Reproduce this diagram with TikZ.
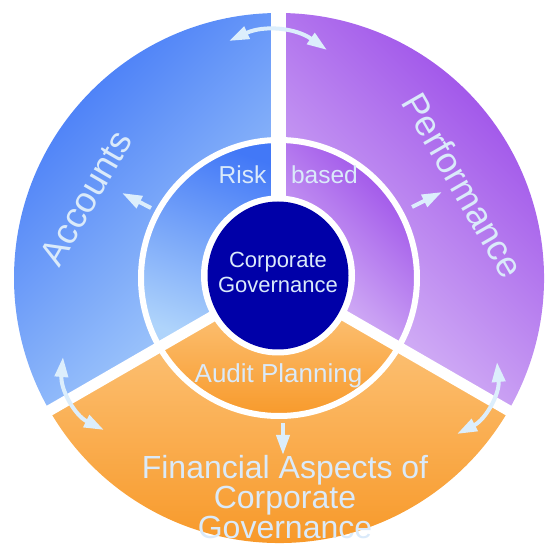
\documentclass[tikz,border=0pt]{standalone}
\usepackage{fontspec}
\setmainfont{Liberation Sans}
\usetikzlibrary{arrows.meta,calc,shapes.geometric}
\definecolor{blueD}{RGB}{66,120,247}
\definecolor{blueL}{RGB}{175,212,251}
\definecolor{purD}{RGB}{150,66,231}
\definecolor{purL}{RGB}{220,194,248}
\definecolor{oraT}{RGB}{253,204,138}
\definecolor{oraB}{RGB}{247,146,28}
\definecolor{navy}{RGB}{0,0,168}
\definecolor{arrc}{RGB}{220,238,252}
\definecolor{txtc}{RGB}{218,234,250}
\tikzset{
  lbl/.style={text=txtc, inner sep=0pt},
  dbl/.style={line width=4pt, draw=arrc, {Triangle[length=20pt,width=13pt]}-{Triangle[length=20pt,width=13pt]}},
  sgl/.style={line width=4pt, draw=arrc, -{Triangle[length=20pt,width=13pt]}},
  gapline/.style={draw=white, line width=11pt},
}
\begin{document}
\begin{tikzpicture}[x=1pt,y=1pt]
\useasboundingbox (0,0) rectangle (547,544);
\coordinate (C) at (279,266);
% outer sectors
\shade[top color=blueD, bottom color=blueL, shading angle=45]
  (C) -- ++(90:265) arc[start angle=90,end angle=210,radius=265] -- cycle;
\shade[top color=purD, bottom color=purL, shading angle=-45]
  (C) -- ++(-30:265) arc[start angle=-30,end angle=90,radius=265] -- cycle;
\shade[top color=oraT, bottom color=oraB]
  (C) -- ++(210:265) arc[start angle=210,end angle=330,radius=265] -- cycle;
% inner sectors
\shade[top color=blueD, bottom color=blueL, shading angle=-20]
  (C) -- ++(90:140) arc[start angle=90,end angle=210,radius=140] -- cycle;
\shade[top color=purD, bottom color=purL, shading angle=-45]
  (C) -- ++(-30:140) arc[start angle=-30,end angle=90,radius=140] -- cycle;
\shade[top color=oraT, bottom color=oraB]
  (C) -- ++(210:140) arc[start angle=210,end angle=330,radius=140] -- cycle;
% gaps
\draw[gapline, line width=15pt] ($(C)+(-1,0)$) -- ++(90:275);
\draw[gapline] (C) -- ++(210:275);
\draw[gapline] (C) -- ++(330:275);
% ring
\draw[white, line width=6pt] (C) circle[radius=138];
% core
\fill[white] (278,268.5) ellipse[x radius=77, y radius=80];
\node[ellipse, fill=navy, minimum width=141pt, minimum height=148pt, inner sep=0pt] (core) at (278,268.5) {};
\node[lbl, align=center, font=\fontsize{22}{25}\selectfont] (cg) at (278,272) {Corporate\\Governance};
% labels
\node[lbl, anchor=base, font=\fontsize{24.5}{25}\selectfont] (risk) at (242.5,360) {Risk};
\node[lbl, anchor=base, font=\fontsize{24.5}{25}\selectfont] (based) at (324.5,360) {based};
\node[lbl, anchor=base, font=\fontsize{26}{25}\selectfont] (audit) at (278.5,161) {Audit Planning};
\node[lbl, rotate=60, font=\fontsize{36}{36}\selectfont] (acc) at (85.5,346) {Accounts};
\node[lbl, rotate=-60, font=\fontsize{36}{36}\selectfont] (perf) at (463,359) {Performance};
\node[lbl, align=center, font=\fontsize{32}{26.5}\selectfont] (fin) at (285,47.2) {Financial Aspects of\\Corporate\\Governance};
% arrow ends
\coordinate (t1) at (229,503);
\coordinate (t2) at (327,494);
\coordinate (l1) at (63,187);
\coordinate (l2) at (104,114);
\coordinate (r1) at (497,182);
\coordinate (r2) at (457,110);
\coordinate (ba) at (151,336);
\coordinate (bb) at (122,351);
\coordinate (pa) at (412,337);
\coordinate (pb) at (442,352);
\coordinate (oa) at (283,121);
\coordinate (ob) at (283,89);
\draw[dbl] (t1) to[bend left=30] (t2);
\draw[dbl] (l1) to[bend right=34] (l2);
\draw[dbl] (r1) to[bend left=34] (r2);
\draw[sgl] (ba) -- (bb);
\draw[sgl] (pa) -- (pb);
\draw[sgl] (oa) -- (ob);
\end{tikzpicture}
\end{document}
